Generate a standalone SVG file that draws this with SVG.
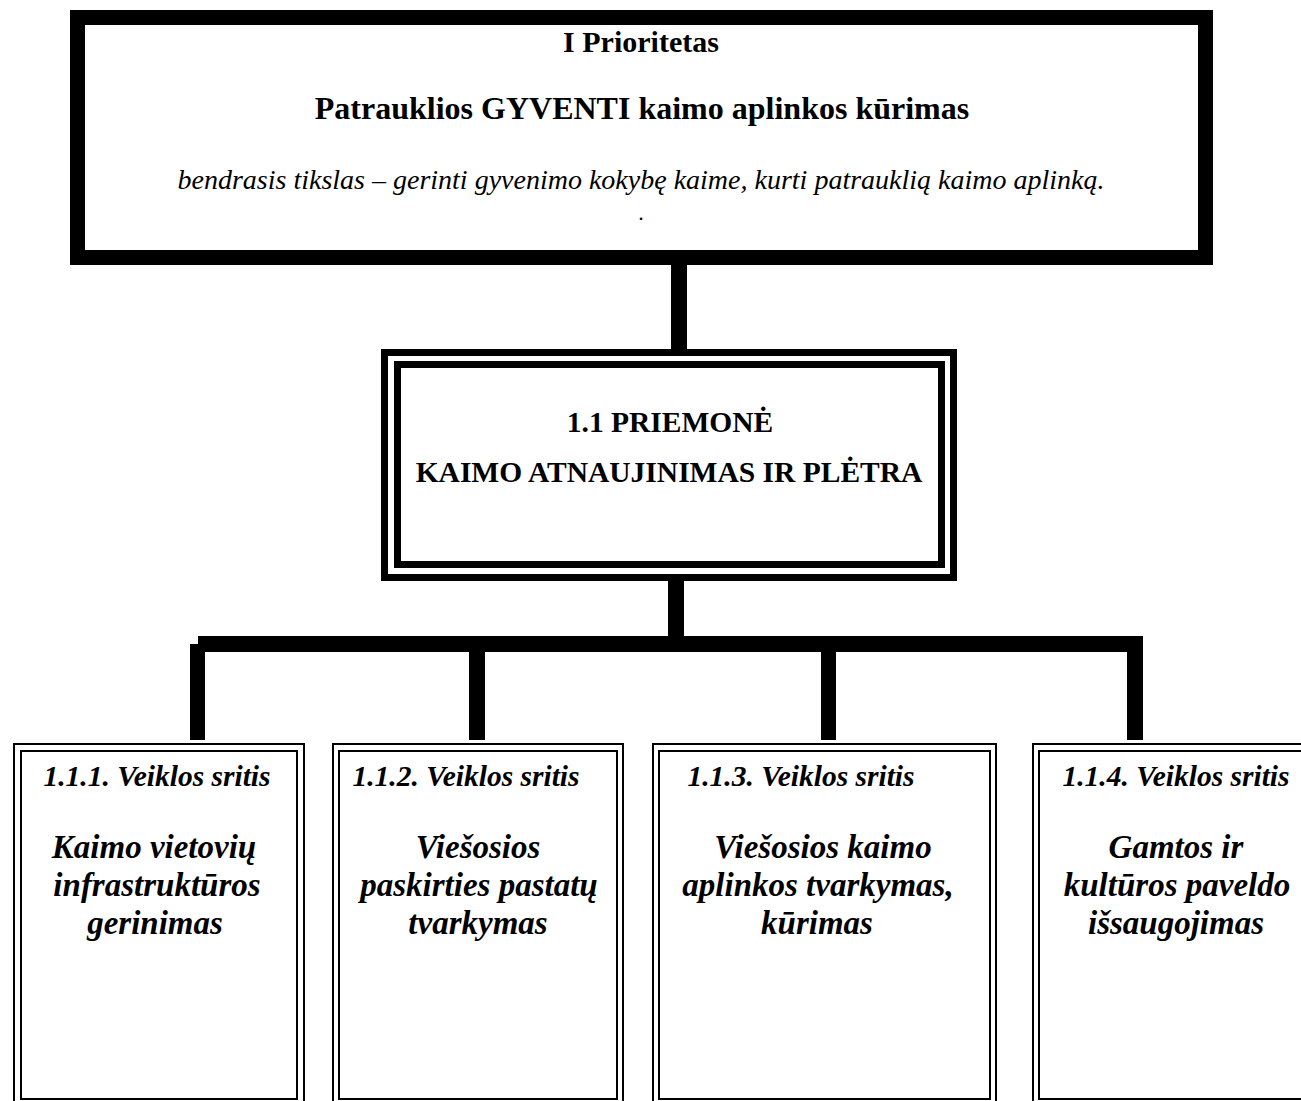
<svg xmlns="http://www.w3.org/2000/svg" width="1301" height="1101" viewBox="0 0 1301 1101">
<style>
.thick{fill:none;stroke:#000;stroke-width:15}
.dbl{fill:none;stroke:#000;stroke-width:7}
.thin{fill:none;stroke:#000;stroke-width:2}
.conn{fill:#000}
.t{font-family:"Liberation Serif","Times New Roman",serif;text-anchor:middle;fill:#000}
.b{font-weight:bold}
.i{font-style:italic}
.h{font-size:29.5px}
.m{font-size:33px}
</style>
<rect width="1301" height="1101" fill="#fff"/>
<g id="connectors">
<rect class="conn" x="671" y="262" width="16" height="90"/>
<rect class="conn" x="668" y="578" width="16" height="60"/>
<rect class="conn" x="198" y="636" width="945" height="16"/>
<rect class="conn" x="190" y="644" width="15" height="96"/>
<rect class="conn" x="469" y="644" width="16" height="96"/>
<rect class="conn" x="821" y="644" width="15" height="96"/>
<rect class="conn" x="1127" y="644" width="16" height="96"/>
</g>
<g id="node-priority">
<rect class="thick" x="77.5" y="17.5" width="1128" height="240"/>
<text class="t b" x="641" y="52" font-size="30">I Prioritetas</text>
<text class="t b" x="642" y="119" font-size="32">Patrauklios GYVENTI kaimo aplinkos kūrimas</text>
<text class="t i" x="641" y="189" font-size="28">bendrasis tikslas –  gerinti gyvenimo kokybę kaime, kurti patrauklią kaimo aplinką.</text>
<text class="t" x="641" y="220" font-size="22">.</text>
</g>
<g id="node-priemone">
<rect class="dbl" x="384.5" y="352.5" width="569" height="225"/>
<rect class="dbl" x="397.5" y="364.5" width="544" height="200"/>
<text class="t b h" x="670" y="432">1.1 PRIEMONĖ</text>
<text class="t b h" x="669" y="482">KAIMO ATNAUJINIMAS IR PLĖTRA</text>
</g>
<g id="node-111">
<rect class="thin" x="14" y="744" width="290" height="370"/>
<rect class="thin" x="21" y="751" width="276" height="348"/>
<text class="t b i h" x="157" y="786">1.1.1. Veiklos sritis</text>
<text class="t b i m" x="154" y="858">Kaimo vietovių</text>
<text class="t b i m" x="157" y="896">infrastruktūros</text>
<text class="t b i m" x="155" y="934">gerinimas</text>
</g>
<g id="node-112">
<rect class="thin" x="333" y="744" width="290" height="370"/>
<rect class="thin" x="339" y="751" width="278" height="348"/>
<text class="t b i h" x="466" y="786">1.1.2. Veiklos sritis</text>
<text class="t b i m" x="478" y="858">Viešosios</text>
<text class="t b i m" x="479" y="896">paskirties pastatų</text>
<text class="t b i m" x="478" y="934">tvarkymas</text>
</g>
<g id="node-113">
<rect class="thin" x="653" y="744" width="343" height="370"/>
<rect class="thin" x="659" y="751" width="331" height="348"/>
<text class="t b i h" x="801" y="786">1.1.3. Veiklos sritis</text>
<text class="t b i m" x="823" y="858">Viešosios kaimo</text>
<text class="t b i m" x="818" y="896">aplinkos tvarkymas,</text>
<text class="t b i m" x="817" y="934">kūrimas</text>
</g>
<g id="node-114">
<rect class="thin" x="1033" y="744" width="300" height="370"/>
<rect class="thin" x="1039" y="751" width="290" height="348"/>
<text class="t b i h" x="1176" y="786">1.1.4. Veiklos sritis</text>
<text class="t b i m" x="1176" y="858">Gamtos ir</text>
<text class="t b i m" x="1177" y="896">kultūros paveldo</text>
<text class="t b i m" x="1176" y="934">išsaugojimas</text>
</g>
</svg>
